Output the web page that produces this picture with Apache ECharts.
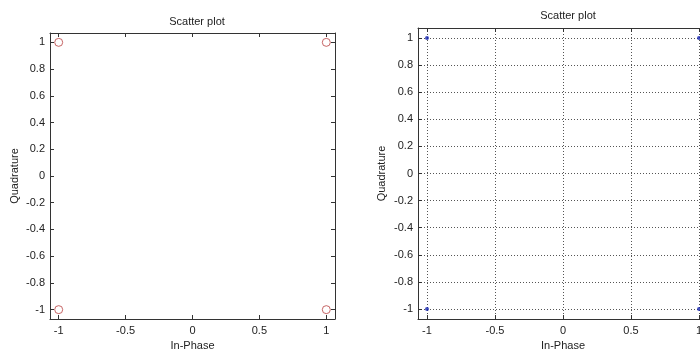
<!DOCTYPE html>
<html>
<head>
<meta charset="utf-8">
<script src="https://cdn.jsdelivr.net/npm/echarts@6/dist/echarts.min.js"></script>
<style>html,body{margin:0;padding:0;background:#fff;}#c{width:700px;height:349px;}</style>
</head>
<body>
<div id="c"></div>
<script>
// Data
const leftInPhase = [-1, 1, -1, 1];
const leftQuadrature = [1, 1, -1, -1];
const rightInPhase = [-1, 1, -1, 1];
const rightQuadrature = [1, 1, -1, -1];
const xTickValues = [-1, -0.5, 0, 0.5, 1];
const yTickValues = [-1, -0.8, -0.6, -0.4, -0.2, 0, 0.2, 0.4, 0.6, 0.8, 1];
const plotTitle = 'Scatter plot';
const xName = 'In-Phase';
const yName = 'Quadrature';

const chart = echarts.init(document.getElementById('c'), null, {renderer: 'canvas'});
const FONT = 'Liberation Sans, Arial, sans-serif';
const TXT = '#222';
const LINE = '#333';
const fmt = v => String(Math.round(v * 10) / 10);

function xAxes(grid, lim, withGrid) {
  return [
    {
      type: 'value', gridIndex: grid, position: 'bottom', min: -lim, max: lim,
      name: xName, nameLocation: 'middle', nameGap: 19,
      nameTextStyle: {color: TXT, fontFamily: FONT, fontSize: 11},
      axisLine: {show: true, onZero: false, lineStyle: {color: LINE, width: 1}},
      axisTick: {show: true, inside: true, length: 4, customValues: xTickValues, lineStyle: {color: LINE}},
      axisLabel: {show: true, customValues: xTickValues, formatter: fmt, color: TXT, fontFamily: FONT, fontSize: 11, margin: 6},
      splitLine: withGrid ? {show: true, lineStyle: {color: '#555', type: [1, 2], width: 1}} : {show: false}
    },
    {
      type: 'value', gridIndex: grid, position: 'top', min: -lim, max: lim,
      axisLine: {show: true, onZero: false, lineStyle: {color: LINE, width: 1}},
      axisTick: {show: true, inside: true, length: 4, customValues: xTickValues, lineStyle: {color: LINE}},
      axisLabel: {show: false},
      splitLine: {show: false}
    }
  ];
}
function yAxes(grid, lim, withGrid, gap) {
  return [
    {
      type: 'value', gridIndex: grid, position: 'left', min: -lim, max: lim,
      name: yName, nameLocation: 'middle', nameGap: gap,
      nameTextStyle: {color: TXT, fontFamily: FONT, fontSize: 11},
      axisLine: {show: true, onZero: false, lineStyle: {color: LINE, width: 1}},
      axisTick: {show: true, inside: true, length: 4, customValues: yTickValues, lineStyle: {color: LINE}},
      axisLabel: {show: true, customValues: yTickValues, formatter: fmt, color: TXT, fontFamily: FONT, fontSize: 11, margin: 5},
      splitLine: withGrid ? {show: true, lineStyle: {color: '#555', type: [1, 2], width: 1}} : {show: false}
    },
    {
      type: 'value', gridIndex: grid, position: 'right', min: -lim, max: lim,
      axisLine: {show: true, onZero: false, lineStyle: {color: LINE, width: 1}},
      axisTick: {show: true, inside: true, length: 4, customValues: yTickValues, lineStyle: {color: LINE}},
      axisLabel: {show: false},
      splitLine: {show: false}
    }
  ];
}

const option = {
  backgroundColor: '#fff',
  animation: false,
  title: [
    {text: plotTitle, left: 192, top: 11, textAlign: 'center',
     textStyle: {color: TXT, fontFamily: FONT, fontSize: 11, fontWeight: 'normal'}},
    {text: plotTitle, left: 563, top: 5, textAlign: 'center',
     textStyle: {color: TXT, fontFamily: FONT, fontSize: 11, fontWeight: 'normal'}}
  ],
  grid: [
    {left: 50, top: 33, width: 285, height: 286, containLabel: false, outerBoundsMode: 'none'},
    {left: 418, top: 28, width: 290, height: 291, containLabel: false, outerBoundsMode: 'none'}
  ],
  xAxis: [...xAxes(0, 1.065, false), ...xAxes(1, 1.066, true)],
  yAxis: [...yAxes(0, 1.07, false, 30), ...yAxes(1, 1.074, true, 31)],
  series: [
    {
      type: 'scatter', xAxisIndex: 0, yAxisIndex: 0,
      data: leftInPhase.map((v, i) => [v, leftQuadrature[i]]),
      symbol: 'circle', symbolSize: 8,
      itemStyle: {color: 'rgba(0,0,0,0)', borderColor: '#b84040', borderWidth: 1}
    },
    {
      type: 'scatter', xAxisIndex: 2, yAxisIndex: 2,
      data: rightInPhase.map((v, i) => [v, rightQuadrature[i]]),
      symbol: 'circle', symbolSize: 4, clip: false,
      itemStyle: {color: '#1020b0'}
    }
  ]
};
chart.setOption(option);
</script>
</body>
</html>
